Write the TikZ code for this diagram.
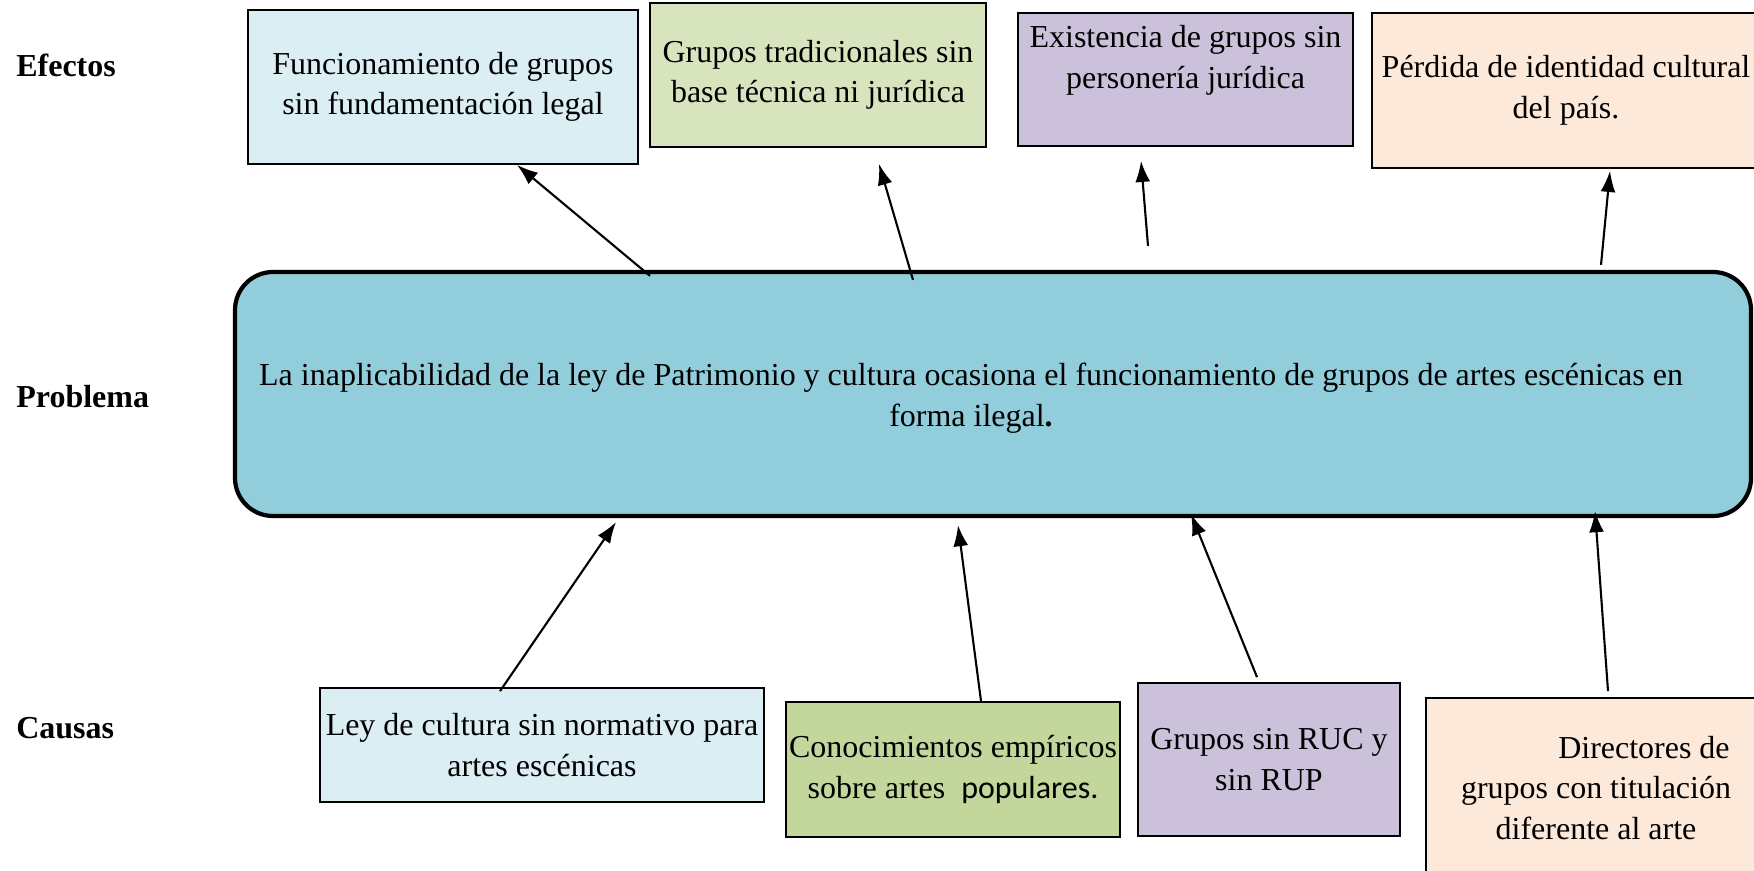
\documentclass[tikz,border=0pt]{standalone}
\usepackage{fontspec}
\setmainfont{Liberation Serif}
\newfontfamily\calfont{Carlito}
\usetikzlibrary{arrows.meta}
\def\boxfont{\fontsize{18.2}{23}\selectfont}
\definecolor{aqualt}{HTML}{DAEEF3}
\definecolor{aquamid}{HTML}{92CDDC}
\definecolor{olivelt}{HTML}{D7E4BD}
\definecolor{olivemid}{HTML}{C3D69B}
\definecolor{purplelt}{HTML}{CCC1DA}
\definecolor{orangelt}{HTML}{FDE9D9}
\tikzset{
	box/.style={draw, line width=1pt, inner sep=1pt, align=center, font=\boxfont},
	probbox/.style={draw, line width=2.4pt, rounded corners=0.76cm, fill=aquamid},
	rowlabel/.style={anchor=west, inner sep=0pt, font=\boxfont\bfseries},
	arr/.style={line width=1.2pt, -{Latex[length=12pt,width=8.5pt]}}
}

\begin{document}
\begin{tikzpicture}
		%%%%% START %%%%%
		\useasboundingbox (0, 0) rectangle (35.08, 17.4);
		
		\node[rowlabel] (lefe) at (0.32, 16.1) {Efectos};
		\node[rowlabel] (lpro) at (0.32, 9.46) {Problema};
		\node[rowlabel] (lcau) at (0.32, 2.84) {Causas};
		
		% efectos
		\node[box, fill=aqualt, minimum width=7.8cm, minimum height=3.08cm] (e1) at (8.86, 15.66)
			{Funcionamiento de grupos\\sin fundamentación legal};
		\node[box, fill=olivelt, minimum width=6.72cm, minimum height=2.88cm] (e2) at (16.36, 15.9)
			{Grupos tradicionales sin\\base técnica ni jurídica};
		\node[box, fill=purplelt, minimum width=6.7cm, minimum height=2.66cm] (e3) at (23.71, 15.81)
			{Existencia de grupos sin\\personería jurídica\\[0.1cm]\mbox{}};
		\node[box, fill=orangelt, minimum width=7.76cm, minimum height=3.1cm] (e4) at (31.32, 15.59)
			{Pérdida de identidad cultural\\del país.};
		
		% problema
		\node[probbox, minimum width=30.32cm, minimum height=4.88cm] (prob) at (19.86, 9.52) {};
		\node[align=center, font=\boxfont, inner sep=0pt] (ptxt) at (19.42, 9.44)
			{La inaplicabilidad de la ley de Patrimonio y cultura ocasiona el funcionamiento de grupos de artes escénicas en\\forma ilegal\textbf{.}};
		
		% causas
		\node[box, fill=aqualt, minimum width=8.88cm, minimum height=2.28cm] (c1) at (10.84, 2.5)
			{Ley de cultura sin normativo para\\artes escénicas};
		\node[box, fill=olivemid, minimum width=6.68cm, minimum height=2.7cm] (c2) at (19.06, 2.01)
			{Conocimientos empíricos\\sobre artes\ \ {\calfont populares.}};
		\node[box, fill=purplelt, minimum width=5.24cm, minimum height=3.06cm] (c3) at (25.38, 2.21)
			{Grupos sin RUC y\\sin RUP};
		\node[box, fill=orangelt, minimum width=6.8cm, minimum height=3.6cm] (c4) at (31.92, 1.64)
			{\hspace*{3em}Directores de\\grupos con titulación\\diferente al arte};
		
		% flechas hacia los efectos
		\draw[arr] ([xshift=-6.86cm, yshift=-0.12cm]prob.north) -- ([xshift=1.48cm]e1.south);
		\draw[arr] ([xshift=-1.6cm, yshift=-0.2cm]prob.north) -- ([xshift=1.22cm, yshift=-0.32cm]e2.south);
		\draw[arr] ([xshift=3.1cm, yshift=0.48cm]prob.north) -- ([xshift=-0.89cm, yshift=-0.28cm]e3.south);
		\draw[arr] ([xshift=12.16cm, yshift=0.1cm]prob.north) -- ([xshift=0.88cm, yshift=-0.04cm]e4.south);
		
		% flechas desde las causas
		\draw[arr] ([xshift=-0.84cm, yshift=-0.08cm]c1.north) -- ([xshift=-7.54cm, yshift=-0.08cm]prob.south);
		\draw[arr] ([xshift=0.56cm]c2.north) -- ([xshift=-0.7cm, yshift=-0.14cm]prob.south);
		\draw[arr] ([xshift=-0.24cm, yshift=0.1cm]c3.north) -- ([xshift=3.96cm, yshift=0.08cm]prob.south);
		\draw[arr] ([xshift=0.24cm, yshift=0.12cm]c4.north) -- ([xshift=12.04cm, yshift=0.14cm]prob.south);
		
		%%%%% END %%%%%
	\end{tikzpicture}
\end{document}
